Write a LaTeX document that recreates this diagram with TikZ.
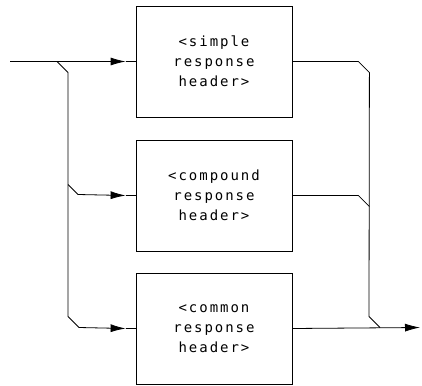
\documentclass[tikz,border=0pt]{standalone}
\usepackage{fontspec}
\setmonofont[LetterSpace=14]{DejaVu Sans Mono}
\usetikzlibrary{arrows.meta, positioning}

\begin{document}
\begin{tikzpicture}[x=1pt, y=1pt, node distance=133pt]
    \tikzstyle{header} = [rectangle, minimum width=156pt, minimum height=111pt, align=center, draw=black, line width=0.8pt, font=\ttfamily\fontsize{14}{20}\selectfont]
    \tikzstyle{line} = [line width=0.8pt]
    \tikzstyle{arrow} = [line width=0.8pt,->,>={Latex[length=15pt,width=8pt]}]

    \useasboundingbox (0,-385) rectangle (422,0);

    \node (simple) [header] at (214,-61.5) {<simple\\response\\header>};
    \node (compound) [header, below of=simple, yshift=-1pt] {<compound\\response\\header>};
    \node (common) [header, below of=compound] {<common\\response\\header>};

    % input side
    \coordinate (in) at (10,-61.5);
    \coordinate (split) at (57,-61.5);
    \coordinate (branch) at (68,-184.5);
    \coordinate (out) at (420,-327.5);

    \draw [arrow] (in) -- ([xshift=-10pt]simple.west);
    \draw [line] ([xshift=-10pt]simple.west) -- (simple.west);
    \draw [arrow] (split) -- ++(11,-11) -- (68,-316.5) -- ++(11,-11) -- ([xshift=-10pt]common.west);
    \draw [line] ([xshift=-10pt]common.west) -- (common.west);
    \draw [arrow] (branch) -- ++(10,-10) -- ([xshift=-10pt]compound.west);
    \draw [line] ([xshift=-10pt]compound.west) -- (compound.west);

    % output side
    \draw [line] (simple.east) -- ++(66,0) -- ++(11,-11) -- (369,-316.5) -- ++(11,-11);
    \draw [line] (compound.east) -- ++(66,0) -- ++(11,-11);
    \draw [arrow] (common.east) -- (out);
\end{tikzpicture}
\end{document}
